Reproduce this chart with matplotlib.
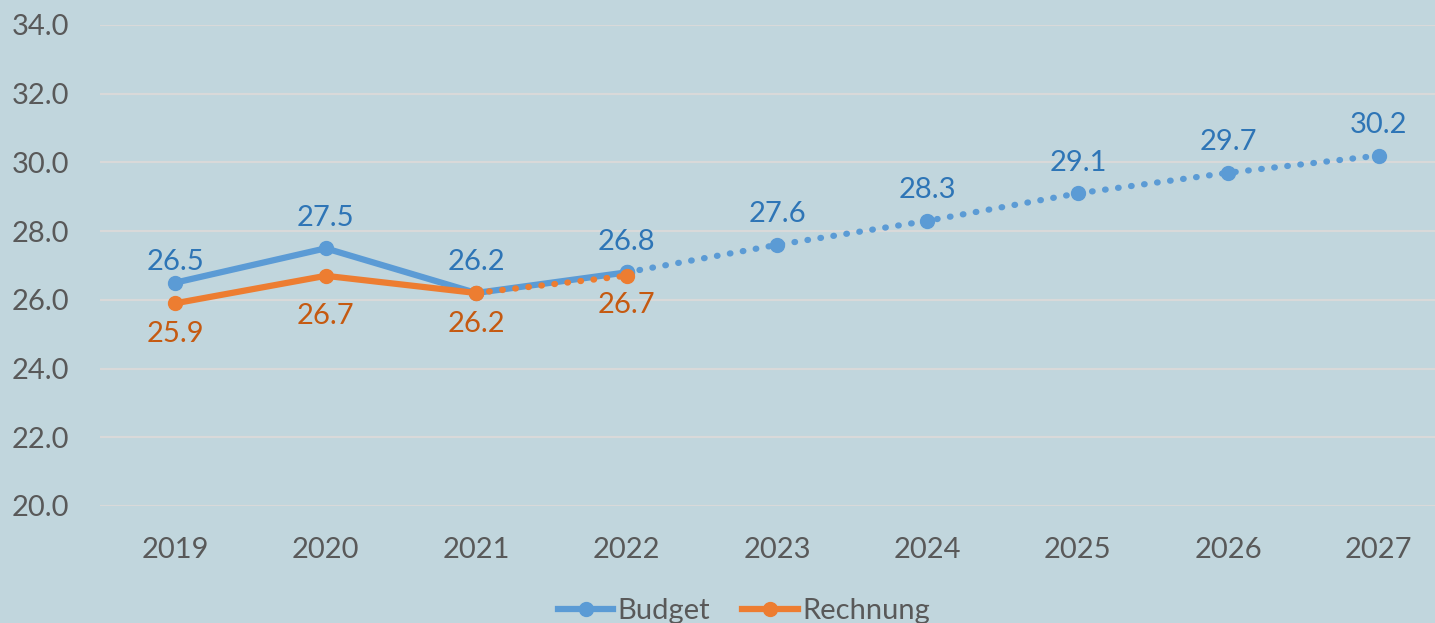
import matplotlib.pyplot as plt
from matplotlib.lines import Line2D

# Data
years = ["2019", "2020", "2021", "2022", "2023", "2024", "2025", "2026", "2027"]
budget = [26.5, 27.5, 26.2, 26.8, 27.6, 28.3, 29.1, 29.7, 30.2]
rechnung = [25.9, 26.7, 26.2, 26.7]
budget_solid_until = 3   # index of last solid budget point
rechnung_solid_until = 2

# label offsets (points) - placed like the original
budget_off = [15, 22, 22, 22, 22, 22, 22, 22, 22]
rechnung_off = [-22, -29, -22.5, -21]

bg = "#C1D6DD"
blue = "#5B9BD5"
orange = "#ED7D31"
blue_txt = "#2E75B6"
orange_txt = "#C55A11"
grey_txt = "#595959"

plt.rcParams['font.family'] = ['Lato', 'DejaVu Sans']

fig = plt.figure(figsize=(14.35, 6.23), dpi=100, facecolor=bg)
ax = fig.add_axes([100 / 1435, 1 - 506 / 623, 1354 / 1435, (506 - 25) / 623])
ax.set_facecolor(bg)

x = list(range(len(years)))
lw = 4.5
ms = 10
fs = 21

# Budget: solid then dotted
ax.plot(x[:budget_solid_until + 1], budget[:budget_solid_until + 1], color=blue,
        lw=lw, marker="o", ms=ms, solid_capstyle="round", zorder=3)
ax.plot(x[budget_solid_until:], budget[budget_solid_until:], color=blue,
        lw=lw, ls=(0, (0.1, 2.0)), dash_capstyle="round", marker="o", ms=ms, zorder=3)

# Rechnung: solid then dotted
xr = x[:len(rechnung)]
ax.plot(xr[:rechnung_solid_until + 1], rechnung[:rechnung_solid_until + 1], color=orange,
        lw=lw, marker="o", ms=ms, solid_capstyle="round", zorder=4)
ax.plot(xr[rechnung_solid_until:], rechnung[rechnung_solid_until:], color=orange,
        lw=lw, ls=(0, (0.1, 2.0)), dash_capstyle="round", marker="o", ms=ms, zorder=4)

for xi, v, o in zip(x, budget, budget_off):
    ax.annotate(f"{v:.1f}", (xi, v), xytext=(0, o), textcoords="offset points",
                ha="center", va="center", fontsize=fs, color=blue_txt)
for xi, v, o in zip(xr, rechnung, rechnung_off):
    ax.annotate(f"{v:.1f}", (xi, v), xytext=(0, o), textcoords="offset points",
                ha="center", va="center", fontsize=fs, color=orange_txt)

ax.set_xlim(-0.5, len(years) - 0.5)
ax.set_ylim(20, 34)
ax.set_yticks([20, 22, 24, 26, 28, 30, 32, 34])
ax.set_yticklabels([f"{v:.1f}" for v in ax.get_yticks()])
ax.set_xticks(x)
ax.set_xticklabels(years)
ax.tick_params(axis="both", length=0, labelsize=fs, colors=grey_txt)
ax.tick_params(axis="y", pad=22)
ax.tick_params(axis="x", pad=22)
ax.grid(axis="y", color="#D9D9D9", lw=1.5)
ax.set_axisbelow(True)
for s in ax.spines.values():
    s.set_visible(False)

handles = [Line2D([], [], color=blue, lw=lw, marker="o", ms=ms),
           Line2D([], [], color=orange, lw=lw, marker="o", ms=ms)]
fig.legend(handles, ["Budget", "Rechnung"], loc="center", bbox_to_anchor=(744 / 1435, 1 - 611 / 623),
           ncol=2, frameon=False, fontsize=fs, labelcolor=grey_txt,
           handlelength=1.9, handletextpad=0.15, columnspacing=1.1)

fig.savefig("out.png", dpi=100, facecolor=bg)
